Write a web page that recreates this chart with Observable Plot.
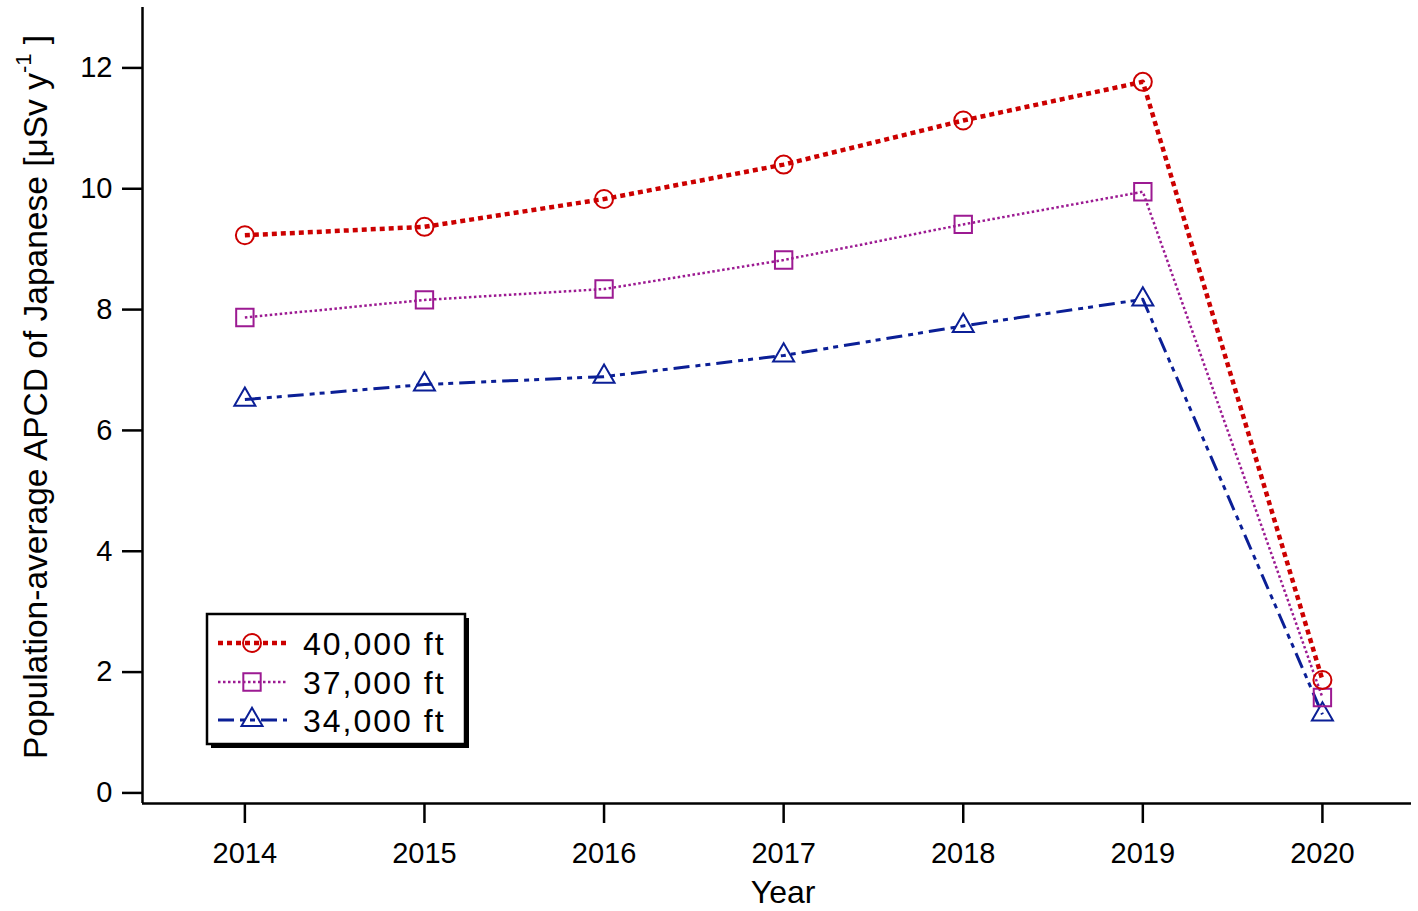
<!DOCTYPE html>
<html><head><meta charset="utf-8">
<script src="https://cdn.jsdelivr.net/npm/d3@7"></script>
<script src="https://cdn.jsdelivr.net/npm/@observablehq/plot@0.6"></script>
<style>
body{margin:0;background:#fff}
#chart{position:relative;width:1418px;height:911px}
svg{font-family:"Liberation Sans",Arial,sans-serif}
</style>
</head><body><div id="chart"></div>
<script>
// ---- data ----
const years = [2014, 2015, 2016, 2017, 2018, 2019, 2020];
const seriesNames = ["40,000 ft", "37,000 ft", "34,000 ft"];
const apcd40000 = [9.23, 9.37, 9.83, 10.40, 11.13, 11.77, 1.87];
const apcd37000 = [7.87, 8.16, 8.34, 8.82, 9.41, 9.95, 1.58];
const apcd34000 = [6.51, 6.76, 6.89, 7.24, 7.73, 8.17, 1.30];
const yTicks = [0, 2, 4, 6, 8, 10, 12];

// ---- styles ----
const values = [apcd40000, apcd37000, apcd34000];
const colors = ["#cc0000", "#9c1a92", "#0b1f96"];
const symbols = ["circle", "square", "triangle"];
const dashes = ["5,4", "2.5,2.5", "16,6,5,5,5,6"];
const widths = [4.5, 2.5, 3];
const radii = [9, 9.8, 7.8];

const rows = [];
seriesNames.forEach((name, i) => years.forEach((yr, j) => rows.push({series: name, idx: i, year: yr, value: values[i][j]})));

const marks = [];
for (let i = seriesNames.length - 1; i >= 0; i--) {
  const d = rows.filter(r => r.idx === i);
  marks.push(Plot.line(d, {x: "year", y: "value", stroke: colors[i], strokeWidth: widths[i], strokeDasharray: dashes[i], strokeLinecap: "butt"}));
}
for (let i = seriesNames.length - 1; i >= 0; i--) {
  const d = rows.filter(r => r.idx === i);
  marks.push(Plot.dot(d, {x: "year", y: "value", symbol: () => symbols[i], r: radii[i], stroke: colors[i], fill: "none", strokeWidth: 2}));
}

const xDomain = [2013.43, 2020.496];
const yDomain = [-0.175, 13];

const chart = Plot.plot({
  width: 1418,
  height: 911,
  marginLeft: 142,
  marginRight: 7,
  marginTop: 7,
  marginBottom: 108,
  style: {fontSize: "29px", fontFamily: "'Liberation Sans', Arial, sans-serif", color: "black", background: "white"},
  x: {domain: xDomain},
  y: {domain: yDomain},
  marks: [
    Plot.axisY({ticks: yTicks, tickSize: 20, tickPadding: 10, strokeWidth: 2.5, label: null, fontSize: 29}),
    Plot.axisX({ticks: years, tickFormat: d => String(d), tickSize: 20, tickPadding: 19, strokeWidth: 2.5, fontSize: 29, label: null}),
    Plot.ruleX([xDomain[0]], {stroke: "black", strokeWidth: 2.5}),
    Plot.ruleY([yDomain[0]], {stroke: "black", strokeWidth: 2.5}),
    ...marks
  ]
});
document.getElementById("chart").appendChild(chart);

const svg = d3.select(chart);
const xs = chart.scale("x");

// x-axis title
svg.append("text")
  .attr("x", xs.apply(2017)).attr("y", 903)
  .attr("text-anchor", "middle").attr("font-size", 32).attr("fill", "black")
  .text("Year");

// y-axis title with superscript
const yt = svg.append("text")
  .attr("transform", "translate(47,397) rotate(-90)")
  .attr("text-anchor", "middle")
  .attr("font-size", 33.5)
  .attr("fill", "black");
yt.append("tspan").text("Population-average APCD of Japanese [μSv y");
yt.append("tspan").attr("font-size", 22).attr("dy", -16).text("-1");
yt.append("tspan").attr("dy", 16).text(" ]");

// legend
const lg = svg.append("g");
const lx = 207, ly = 614, lw = 258, lh = 130;
lg.append("rect").attr("x", lx + 4).attr("y", ly + 4).attr("width", lw).attr("height", lh).attr("fill", "black");
lg.append("rect").attr("x", lx).attr("y", ly).attr("width", lw).attr("height", lh).attr("fill", "white").attr("stroke", "black").attr("stroke-width", 2.5);
const rowY = [643, 682, 720];
seriesNames.forEach((name, i) => {
  const y = rowY[i];
  lg.append("line").attr("x1", 218).attr("x2", 287).attr("y1", y).attr("y2", y)
    .attr("stroke", colors[i]).attr("stroke-width", widths[i]).attr("stroke-dasharray", dashes[i]);
  const sym = {circle: d3.symbolCircle, square: d3.symbolSquare, triangle: d3.symbolTriangle}[symbols[i]];
  lg.append("path").attr("transform", `translate(252,${y})`)
    .attr("d", d3.symbol(sym, Math.PI * radii[i] * radii[i])())
    .attr("fill", "none").attr("stroke", colors[i]).attr("stroke-width", 2);
  lg.append("text").attr("x", 303).attr("y", y).attr("dy", "0.36em")
    .attr("text-anchor", "start").attr("font-size", 32).attr("letter-spacing", 2)
    .attr("fill", "black").text(name);
});
</script>
</body></html>
